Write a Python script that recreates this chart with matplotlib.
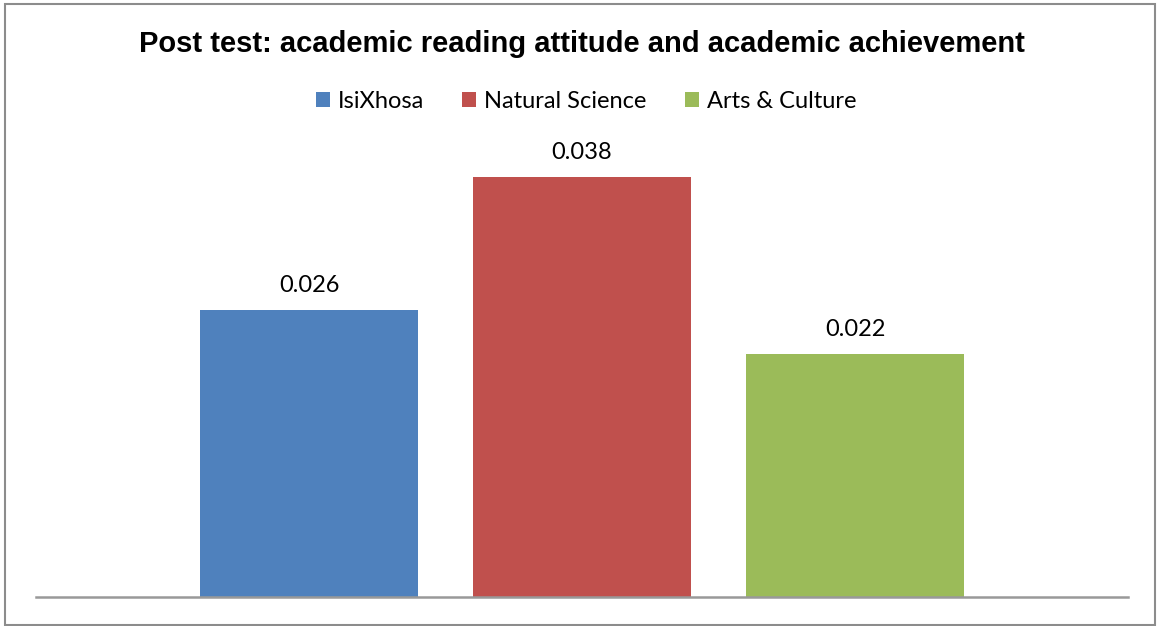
import matplotlib.pyplot as plt
from matplotlib.patches import Rectangle

series = ["IsiXhosa", "Natural Science", "Arts & Culture"]
values = [0.026, 0.038, 0.022]
colors = ["#4F81BD", "#C0504D", "#9BBB59"]
labels = ["0.026", "0.038", "0.022"]

plt.rcParams["font.family"] = ["Lato", "DejaVu Sans"]

fig = plt.figure(figsize=(11.57, 6.26), dpi=100)
ax = fig.add_axes([36 / 1157, 29 / 626, 1092 / 1157, 442 / 626])

x = range(len(series))
bars = ax.bar(x, values, width=0.8, color=colors, label=series)

for bar, lab in zip(bars, labels):
    ax.annotate(lab, (bar.get_x() + bar.get_width() / 2, bar.get_height()),
                xytext=(0, 10), textcoords="offset points",
                ha="center", va="bottom", fontsize=17)

ax.set_xlim(-1.0, 3.0)
ax.set_ylim(0, 0.04)
ax.set_xticks([])
ax.set_yticks([])
for side in ["top", "left", "right"]:
    ax.spines[side].set_visible(False)
ax.spines["bottom"].set_color("#999999")
ax.spines["bottom"].set_linewidth(1.8)

fig.text(582 / 1157, 1 - 44 / 626, "Post test: academic reading attitude and academic achievement",
         ha="center", va="center", fontsize=21, fontweight="bold",
         family=["Liberation Sans", "DejaVu Sans"])

fig.legend(handles=bars, labels=series, loc="center", bbox_to_anchor=(586 / 1157, 1 - 101 / 626),
           ncol=3, frameon=False, fontsize=17, handlelength=0.6, handleheight=0.6,
           handletextpad=0.35, columnspacing=1.6)

# outer chart border
fig.patches.append(Rectangle((5 / 1157, 1 / 626), 1150 / 1157, 621 / 626,
                             transform=fig.transFigure, fill=False,
                             edgecolor="#8c8c8c", linewidth=1.5))

fig.savefig("out.png", dpi=100)
